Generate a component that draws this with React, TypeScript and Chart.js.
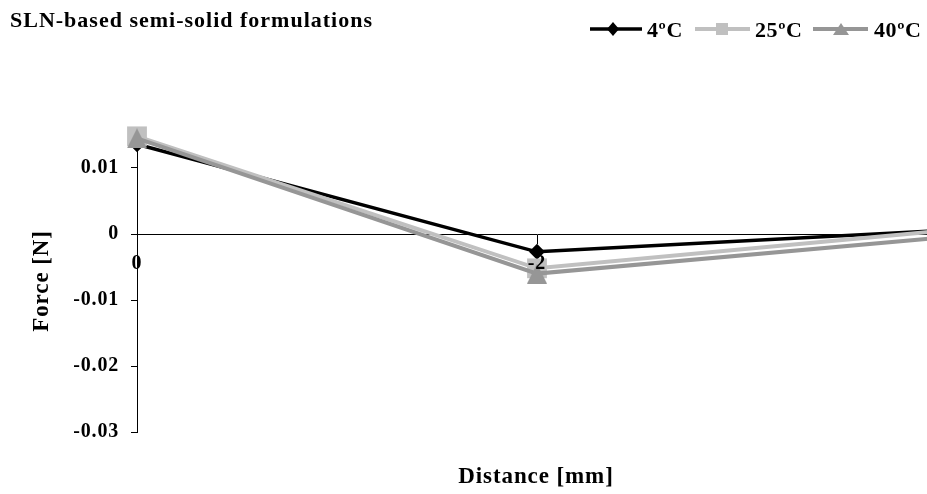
import { useEffect, useRef } from 'react';
import { Chart, registerables } from 'chart.js';

Chart.register(...registerables);

// ---- data ----
const distanceLabels = ['0', '-2', '-4'];
const force4C = [0.0136, -0.0027, 0.0005];
const force25C = [0.0148, -0.0052, 0.0004];
const force40C = [0.0145, -0.006, -0.0006];
const yTickValues = [0.01, 0, -0.01, -0.02, -0.03];
const yTickLabels = ['0.01', '0', '-0.01', '-0.02', '-0.03'];
const seriesNames = ['4ºC', '25ºC', '40ºC'];
const chartTitle = 'SLN-based semi-solid formulations';
const xTitle = 'Distance [mm]';
const yTitle = 'Force [N]';

const FAMILY = "'Liberation Serif', 'Times New Roman', serif";
const C_BLACK = '#000000';
const C_LIGHT = '#c0c0c0';
const C_GREY = '#969696';

function makeTriangle(w: number, h: number, color: string) {
  const c = document.createElement('canvas');
  c.width = w;
  c.height = h;
  const g = c.getContext('2d')!;
  g.fillStyle = color;
  g.beginPath();
  g.moveTo(w / 2, 0);
  g.lineTo(w, h);
  g.lineTo(0, h);
  g.closePath();
  g.fill();
  return c;
}

const decorPlugin = {
  id: 'decor',
  beforeUpdate(chart: any) {
    chart.ctx.letterSpacing = '0.8px';
  },
  beforeDraw(chart: any) {
    const ctx = chart.ctx;
    ctx.save();
    ctx.fillStyle = '#ffffff';
    ctx.fillRect(0, 0, chart.width, chart.height);
    ctx.restore();
    ctx.letterSpacing = '0.8px';
  },
  afterDraw(chart: any) {
    const ctx: CanvasRenderingContext2D = chart.ctx;
    ctx.save();
    ctx.fillStyle = '#000';
    // title
    (ctx as any).letterSpacing = '1px';
    ctx.font = `bold 22px ${FAMILY}`;
    ctx.textAlign = 'left';
    ctx.textBaseline = 'alphabetic';
    ctx.fillText(chartTitle, 10, 27);

    // legend
    (ctx as any).letterSpacing = '0.6px';
    const ly = 29;
    const line = (x1: number, x2: number, color: string, w: number) => {
      ctx.strokeStyle = color;
      ctx.lineWidth = w;
      ctx.beginPath();
      ctx.moveTo(x1, ly);
      ctx.lineTo(x2, ly);
      ctx.stroke();
    };
    line(590, 642, C_BLACK, 3.5);
    ctx.fillStyle = C_BLACK;
    ctx.beginPath();
    ctx.moveTo(613, ly - 7);
    ctx.lineTo(619, ly);
    ctx.lineTo(613, ly + 7);
    ctx.lineTo(607, ly);
    ctx.closePath();
    ctx.fill();

    line(695, 750, C_LIGHT, 4);
    ctx.fillStyle = C_LIGHT;
    ctx.fillRect(716, ly - 6, 12, 12);

    line(813, 868, C_GREY, 4);
    ctx.fillStyle = C_GREY;
    ctx.beginPath();
    ctx.moveTo(841, ly - 6);
    ctx.lineTo(849, ly + 6);
    ctx.lineTo(833, ly + 6);
    ctx.closePath();
    ctx.fill();

    ctx.fillStyle = '#000';
    ctx.font = `bold 22px ${FAMILY}`;
    ctx.fillText(seriesNames[0], 647, 37);
    ctx.fillText(seriesNames[1], 755, 37);
    ctx.fillText(seriesNames[2], 874, 37);

    // axis titles
    (ctx as any).letterSpacing = '0.9px';
    ctx.font = `bold 23px ${FAMILY}`;
    ctx.textAlign = 'center';
    ctx.fillText(xTitle, 536, 483);
    ctx.save();
    ctx.translate(42, 281);
    ctx.rotate(-Math.PI / 2);
    ctx.textBaseline = 'middle';
    ctx.fillText(yTitle, 0, 0);
    ctx.restore();
    ctx.restore();
  },
};

export default function App() {
  const ref = useRef<HTMLCanvasElement>(null);
  useEffect(() => {
    const canvas = ref.current!;
    const tri = makeTriangle(20, 20, C_GREY);
    const chart = new Chart(canvas, {
      type: 'line',
      data: {
        labels: distanceLabels,
        datasets: [
          {
            label: seriesNames[0],
            data: force4C,
            borderColor: C_BLACK,
            backgroundColor: C_BLACK,
            pointBackgroundColor: C_BLACK,
            borderWidth: 3.5,
            pointStyle: 'rectRot',
            pointRadius: 8,
            pointBorderWidth: 0,
            tension: 0,
            fill: false,
            clip: false,
            order: 3,
          },
          {
            label: seriesNames[1],
            data: force25C,
            borderColor: C_LIGHT,
            backgroundColor: C_LIGHT,
            pointBackgroundColor: C_LIGHT,
            borderWidth: 4,
            pointStyle: 'rect',
            pointRadius: 14,
            pointBorderWidth: 0,
            tension: 0,
            fill: false,
            clip: false,
            order: 2,
          },
          {
            label: seriesNames[2],
            data: force40C,
            borderColor: C_GREY,
            backgroundColor: C_GREY,
            pointBackgroundColor: C_GREY,
            borderWidth: 4,
            pointStyle: tri as any,
            pointRadius: 12,
            pointBorderWidth: 0,
            tension: 0,
            fill: false,
            clip: false,
            order: 1,
          },
        ],
      },
      options: {
        responsive: false,
        animation: false,
        devicePixelRatio: 1,
        events: [],
        layout: { padding: { left: 0, top: 135, right: 23, bottom: 62 } },
        plugins: {
          legend: { display: false },
          title: { display: false },
          tooltip: { enabled: false },
        },
        scales: {
          x: {
            type: 'category',
            position: { y: 0 } as any,
            offset: false,
            grid: {
              display: true,
              drawOnChartArea: false,
              drawTicks: true,
              tickLength: 9,
              color: '#000',
              lineWidth: 1,
              offset: false,
            },
            border: { display: true, color: '#000', width: 1 },
            ticks: {
              z: 1,
              autoSkip: false,
              maxRotation: 0,
              minRotation: 0,
              padding: 9,
              color: '#000',
              font: { family: FAMILY, size: 20, weight: 'bold' },
            },
          },
          y: {
            type: 'linear',
            position: 'left',
            min: -0.03,
            max: 0.015,
            afterBuildTicks: (scale: any) => {
              scale.ticks = yTickValues.map((v) => ({ value: v }));
            },
            afterFit: (scale: any) => {
              scale.width = 137;
            },
            grid: {
              display: true,
              drawOnChartArea: false,
              drawTicks: true,
              tickLength: 6,
              color: '#000',
              lineWidth: 1,
            },
            border: { display: true, color: '#000', width: 1 },
            ticks: {
              padding: 12,
              color: '#000',
              font: { family: FAMILY, size: 20, weight: 'bold' },
              callback: (value: any) => {
                const i = yTickValues.findIndex((v) => Math.abs(v - Number(value)) < 1e-9);
                return i >= 0 ? yTickLabels[i] : '';
              },
            },
          },
        },
      },
      plugins: [decorPlugin],
    });
    return () => chart.destroy();
  }, []);
  return (
    <div
      style={{
        position: 'fixed',
        left: 0,
        top: 0,
        width: 927,
        height: 494,
        overflow: 'hidden',
        background: '#fff',
      }}
    >
      <canvas ref={ref} width={960} height={494} style={{ display: 'block', width: 960, height: 494 }} />
    </div>
  );
}
